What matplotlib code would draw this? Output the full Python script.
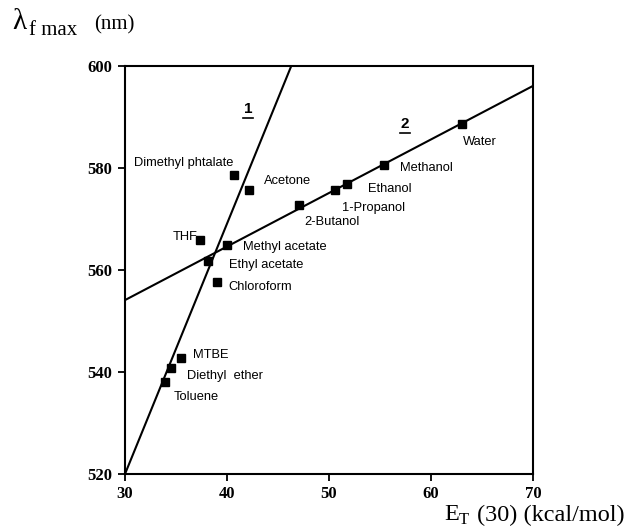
import matplotlib
matplotlib.use("Agg")
import matplotlib.pyplot as plt

# solvent data: E_T(30) (kcal/mol) and lambda_f max (nm)
solvents = ["Dimethyl phtalate", "Acetone", "THF", "Methyl acetate", "Ethyl acetate",
            "Chloroform", "MTBE", "Diethyl  ether", "Toluene", "2-Butanol",
            "1-Propanol", "Ethanol", "Methanol", "Water"]
et30 = [40.7, 42.2, 37.4, 40.0, 38.1, 39.0, 35.5, 34.5, 33.9, 47.1, 50.6, 51.8, 55.4, 63.0]
lam = [578.7, 575.6, 565.9, 564.9, 561.8, 557.7, 542.8, 540.7, 538.0, 572.7, 575.6, 576.8, 580.5, 588.7]

# regression lines 1 and 2 (end points)
line1_x = [30.0, 46.3]
line1_y = [520.0, 600.0]
line2_x = [30.0, 70.0]
line2_y = [554.1, 596.1]

# label offsets in pixels (dx, dy, ha)
offsets = [(-100, 12, "left"), (15, 9, "left"), (-3, 3, "right"), (16, -2, "left"),
           (21, -4, "left"), (12, -5, "left"), (12, 3, "left"), (16, -8, "left"),
           (9, -15, "left"), (5, -17, "left"), (7, -18, "left"), (21, -5, "left"),
           (16, -3, "left"), (1, -18, "left")]

fig = plt.figure(figsize=(6.36, 5.31), dpi=100)
ax = fig.add_axes([125/636, 57/531, 408/636, 408/531])

ax.plot(line1_x, line1_y, color="black", lw=1.5)
ax.plot(line2_x, line2_y, color="black", lw=1.5)
ax.plot(et30, lam, "s", color="black", ms=6)

for name, x, y, (dx, dy, ha) in zip(solvents, et30, lam, offsets):
    ax.annotate(name, (x, y), xytext=(dx, dy), textcoords="offset pixels",
                ha=ha, va="center", fontsize=9.3, family="Liberation Sans")

ax.text(42.05, 591.5, "1", fontsize=11, fontweight="bold", family="Liberation Sans",
        ha="center", va="center")
ax.text(57.45, 588.6, "2", fontsize=11, fontweight="bold", family="Liberation Sans",
        ha="center", va="center")
ax.plot([41.6, 42.5], [589.8, 589.8], color="black", lw=1.2)
ax.plot([57.0, 57.9], [586.9, 586.9], color="black", lw=1.2)

ax.set_xlim(30, 70)
ax.set_ylim(520, 600)
ax.set_xticks([30, 40, 50, 60, 70])
ax.set_yticks([520, 540, 560, 580, 600])
for s in ax.spines.values():
    s.set_linewidth(1.5)
ax.tick_params(direction="out", length=5, width=1.3, pad=4)
for t in ax.get_xticklabels() + ax.get_yticklabels():
    t.set_family("Liberation Serif")
    t.set_fontweight("bold")
    t.set_fontsize(12)

fig.text(12/636, 1 - 22/531, "λ", fontsize=21, family="Liberation Serif", va="center")
fig.text(29/636, 1 - 31/531, "f max", fontsize=15, family="Liberation Serif", va="center")
fig.text(94/636, 1 - 25/531, "(nm)", fontsize=15, family="Liberation Serif", va="center")

fig.text(444/636, 1 - 515/531, "E", fontsize=17.5, family="Liberation Serif", va="center")
fig.text(459/636, 1 - 520/531, "T", fontsize=12, family="Liberation Serif", va="center")
fig.text(477/636, 1 - 515/531, "(30) (kcal/mol)", fontsize=17.5, family="Liberation Serif",
         va="center")

fig.savefig("out.png", dpi=100)
